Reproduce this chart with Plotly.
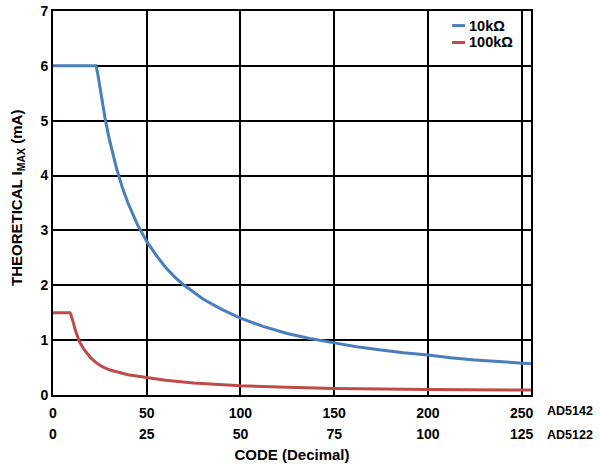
import plotly.graph_objects as go

# values
code_10k = [0, 23, 24, 25, 26, 27, 28, 30, 32, 34, 37, 40, 45, 50, 55, 60, 65, 70, 80, 90,
            100, 112, 125, 137, 150, 162, 175, 187, 200, 212, 225, 240, 255]
imax_10k = [6.0, 6.0, 5.83, 5.6, 5.38, 5.18, 5.0, 4.67, 4.38, 4.12, 3.78, 3.5, 3.11, 2.8, 2.55,
            2.33, 2.15, 2.0, 1.75, 1.56, 1.4, 1.25, 1.12, 1.03, 0.95, 0.88, 0.82, 0.77, 0.73,
            0.68, 0.64, 0.6, 0.57]

code_100k = [0, 9, 9.5, 10, 11, 12, 13, 14, 16, 18, 20, 23, 26, 30, 35, 40, 50, 60, 75, 100,
             125, 150, 200, 255]
imax_100k = [1.5, 1.5, 1.47, 1.42, 1.3, 1.17, 1.06, 0.98, 0.86, 0.76, 0.68, 0.59, 0.52, 0.46,
             0.41, 0.37, 0.32, 0.27, 0.22, 0.17, 0.14, 0.12, 0.1, 0.09]

series_names = ["10kΩ", "100kΩ"]
series_colors = ["#4a7ebb", "#be4b48"]

ad5142_ticks = [0, 50, 100, 150, 200, 250]
ad5122_ticks = [0, 25, 50, 75, 100, 125]
y_ticks = [0, 1, 2, 3, 4, 5, 6, 7]

FONT = "Liberation Sans, Arial, sans-serif"

fig = go.Figure()
fig.add_trace(go.Scatter(x=code_10k, y=imax_10k, mode="lines", name=series_names[0],
                         line=dict(color=series_colors[0], width=3)))
fig.add_trace(go.Scatter(x=code_100k, y=imax_100k, mode="lines", name=series_names[1],
                         line=dict(color=series_colors[1], width=3)))
# invisible trace so the second code axis (AD5122) gets drawn
fig.add_trace(go.Scatter(x=[0, 127.5], y=[0, 0], xaxis="x2", mode="lines",
                         line=dict(width=0), showlegend=False, hoverinfo="skip"))

fig.update_layout(
    width=600, height=467,
    margin=dict(l=53, r=69, t=11, b=72, autoexpand=False),
    paper_bgcolor="white", plot_bgcolor="white",
    font=dict(family=FONT, size=14, color="black", weight="bold"),
    showlegend=False,
    xaxis=dict(range=[0, 255], tickvals=ad5142_ticks, showgrid=True,
               gridcolor="black", gridwidth=1.5, zeroline=False,
               showline=True, linecolor="black", linewidth=2, mirror=True,
               ticks="", automargin=False, ticklabelstandoff=4,
               tickfont=dict(size=14, weight="bold"),
               title=dict(text="CODE (Decimal)", standoff=30,
                          font=dict(size=15, weight="bold"))),
    xaxis2=dict(range=[0, 127.5], tickvals=ad5122_ticks, overlaying="x",
                anchor="y", side="bottom", showgrid=False, zeroline=False,
                showline=False, ticks="", ticklabelstandoff=29, automargin=False,
                tickfont=dict(size=14, weight="bold")),
    yaxis=dict(range=[0, 7], tickvals=y_ticks, showgrid=True,
               gridcolor="black", gridwidth=1.5, zeroline=False,
               showline=True, linecolor="black", linewidth=2, mirror=True,
               ticks="", automargin=False, tickfont=dict(size=14, weight="bold")),
)

# y title (sits a bit above the plot centre in the reference)
fig.add_annotation(text="THEORETICAL I<sub>MAX</sub> (mA)", xref="paper", yref="paper",
                   x=-0.0753, y=0.513, textangle=-90, showarrow=False,
                   xanchor="center", yanchor="middle",
                   font=dict(size=15, weight="bold"))

# legend drawn by hand: short line swatches, tight rows
for name, color, ly in zip(series_names, series_colors, [0.962, 0.918]):
    fig.add_shape(type="line", xref="paper", yref="paper", x0=0.835, x1=0.862,
                  y0=ly, y1=ly, line=dict(color=color, width=3))
    fig.add_annotation(text=name, xref="paper", yref="paper", x=0.866, y=ly,
                       xanchor="left", yanchor="middle", showarrow=False,
                       font=dict(size=14.5, weight="bold"))

for label, yv in [("AD5142", -0.042), ("AD5122", -0.104)]:
    fig.add_annotation(text=label, xref="paper", yref="paper", x=1.029, y=yv,
                       xanchor="left", yanchor="middle", showarrow=False,
                       font=dict(size=12.5, weight="bold"))

# drop the default 8px body margin so the chart sits at the window origin
fig.write_html("out.html", config={"displayModeBar": False},
               post_script="document.body.style.margin='0px';")
